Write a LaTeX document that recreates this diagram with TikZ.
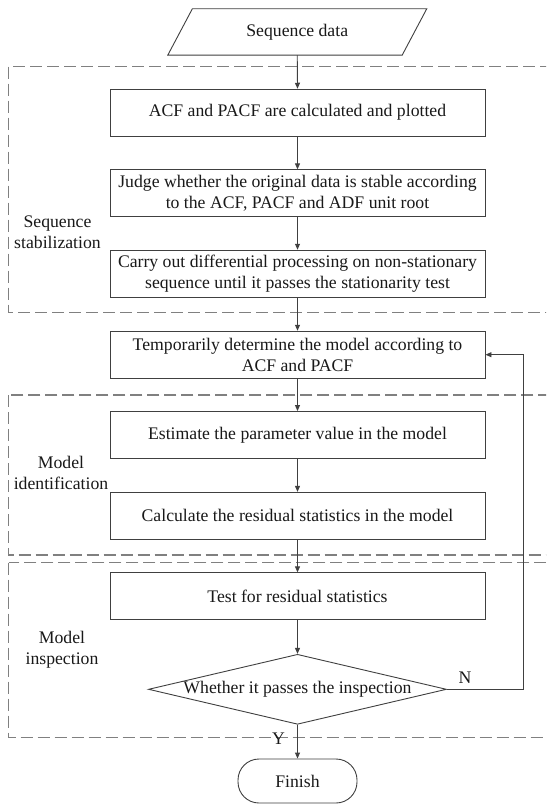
\documentclass[tikz,border=0pt]{standalone}
\usepackage{fontspec}
\setmainfont{Liberation Serif}
\usetikzlibrary{arrows.meta,shapes.geometric,calc}
\begin{document}
\begin{tikzpicture}[x=1pt,y=-1pt,
  every node/.style={font=\fontsize{17.7}{20.6}\selectfont, text=black!90},
  stepbox/.style={draw=black!75, line width=0.9pt, minimum width=375pt, minimum height=47pt, align=center, inner sep=2pt},
  arr/.style={draw=black!75, line width=0.9pt, -{Triangle[length=6pt,width=5pt]}},
  region/.style={draw=black!50, line width=1.2pt, dash pattern=on 12pt off 5pt},
  lbl/.style={align=center, inner sep=0pt},
  dia/.style={draw=black!75, line width=0.9pt, shape=diamond, aspect=4.26, inner sep=0pt, minimum width=298pt, minimum height=70pt},
  term/.style={draw=black!75, line width=0.9pt, rounded corners=21pt, minimum width=119pt, minimum height=44pt}
]
\clip (0,0) rectangle (546,805);
\fill[white] (0,0) rectangle (546,805);

% dashed regions
\draw[region] (8.7,66.7) rectangle (570,312.3);
\draw[region] (8.7,395) rectangle (570,555);
\draw[region] (8.7,562.7) rectangle (570,737.7);

% input parallelogram
\node[minimum width=234pt, minimum height=46pt, inner sep=0pt] (seq) at (297.25,32) {Sequence data};
\draw[draw=black!75, line width=0.9pt]
  ([xshift=-12.3pt]seq.south west) -- ([xshift=-12.3pt]seq.south east)
  -- ([xshift=12.3pt]seq.north east) -- ([xshift=12.3pt]seq.north west) -- cycle;

\node[stepbox] (b1) at (297.5,112.7) {ACF and PACF are calculated and plotted};
\node[stepbox] (b2) at (297.5,193.3) {Judge whether the original data is stable according\\to the ACF, PACF and ADF unit root};
\node[stepbox] (b3) at (297.5,273.7) {Carry out differential processing on non-stationary\\sequence until it passes the stationarity test};
\node[stepbox] (b4) at (297.5,354.7) {Temporarily determine the model according to\\ACF and PACF};
\node[stepbox] (b5) at (297.5,435) {Estimate the parameter value in the model};
\node[stepbox] (b6) at (297.5,515.8) {Calculate the residual statistics in the model};
\node[stepbox] (b7) at (297.5,596.3) {Test for residual statistics};
\node[dia] (d) at (297.5,689.3) {Whether it passes the inspection};
\node[term] (fin) at (297.5,781) {Finish};

% region labels
\node[lbl] (l1) at (57.5,232) {Sequence\\stabilization};
\node[lbl] (l2) at (61,473) {Model\\identification};
\node[lbl] (l3) at (62,649.5) {Model\\inspection};

% connectors
\draw[arr] (seq.south) -- (b1.north);
\draw[arr] (b1) -- (b2);
\draw[arr] (b2) -- (b3);
\draw[arr] (b3) -- (b4);
\draw[arr] (b4) -- (b5);
\draw[arr] (b5) -- (b6);
\draw[arr] (b6) -- (b7);
\draw[arr] (b7) -- (d);
\draw[arr] (d) -- (fin);
\coordinate (fb) at (523,354.7);
\draw[arr] (d.east) -| (fb) -- (b4.east);

\node[inner sep=0pt] (n) at (465,677.3) {N};
\node[inner sep=0pt] (y) at (278.5,739) {Y};
\end{tikzpicture}
\end{document}
